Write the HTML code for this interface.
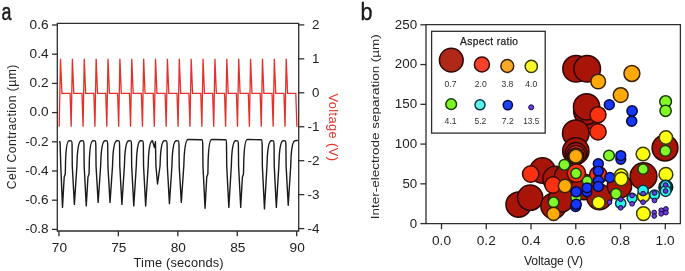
<!DOCTYPE html>
<html><head><meta charset="utf-8"><style>
html,body{margin:0;padding:0;background:#fff;}
svg{display:block;font-family:"Liberation Sans", sans-serif;filter:blur(0.3px);}
</style></head><body>
<svg width="685" height="271" viewBox="0 0 685 271">
<rect width="685" height="271" fill="#fff"/>
<text transform="translate(1.5,19.7) scale(0.77,1)" font-size="23.2" fill="#1a1a1a" stroke="#1a1a1a" stroke-width="0.5">a</text>
<path d="M57.3,23.4 H298.7 V231.0 H57.3 Z" fill="none" stroke="#2e2e2e" stroke-width="1.3"/>
<line x1="52.00" y1="25.00" x2="57.30" y2="25.00" stroke="#2e2e2e" stroke-width="1.3"/>
<text x="48.60" y="28.80" font-size="12.1" text-anchor="end" fill="#222" textLength="19.0" lengthAdjust="spacingAndGlyphs">0.6</text>
<line x1="52.00" y1="54.20" x2="57.30" y2="54.20" stroke="#2e2e2e" stroke-width="1.3"/>
<text x="48.60" y="58.00" font-size="12.1" text-anchor="end" fill="#222" textLength="19.0" lengthAdjust="spacingAndGlyphs">0.4</text>
<line x1="52.00" y1="83.40" x2="57.30" y2="83.40" stroke="#2e2e2e" stroke-width="1.3"/>
<text x="48.60" y="87.20" font-size="12.1" text-anchor="end" fill="#222" textLength="19.0" lengthAdjust="spacingAndGlyphs">0.2</text>
<line x1="52.00" y1="112.60" x2="57.30" y2="112.60" stroke="#2e2e2e" stroke-width="1.3"/>
<text x="48.60" y="116.40" font-size="12.1" text-anchor="end" fill="#222" textLength="19.0" lengthAdjust="spacingAndGlyphs">0.0</text>
<line x1="52.00" y1="141.80" x2="57.30" y2="141.80" stroke="#2e2e2e" stroke-width="1.3"/>
<text x="48.60" y="145.60" font-size="12.1" text-anchor="end" fill="#222" textLength="23.4" lengthAdjust="spacingAndGlyphs">-0.2</text>
<line x1="52.00" y1="171.00" x2="57.30" y2="171.00" stroke="#2e2e2e" stroke-width="1.3"/>
<text x="48.60" y="174.80" font-size="12.1" text-anchor="end" fill="#222" textLength="23.4" lengthAdjust="spacingAndGlyphs">-0.4</text>
<line x1="52.00" y1="200.20" x2="57.30" y2="200.20" stroke="#2e2e2e" stroke-width="1.3"/>
<text x="48.60" y="204.00" font-size="12.1" text-anchor="end" fill="#222" textLength="23.4" lengthAdjust="spacingAndGlyphs">-0.6</text>
<line x1="52.00" y1="229.40" x2="57.30" y2="229.40" stroke="#2e2e2e" stroke-width="1.3"/>
<text x="48.60" y="233.20" font-size="12.1" text-anchor="end" fill="#222" textLength="23.4" lengthAdjust="spacingAndGlyphs">-0.8</text>
<line x1="298.70" y1="24.90" x2="304.30" y2="24.90" stroke="#2e2e2e" stroke-width="1.3"/>
<text x="312.00" y="28.80" font-size="12.1" text-anchor="start" fill="#222" textLength="7.4" lengthAdjust="spacingAndGlyphs">2</text>
<line x1="298.70" y1="58.85" x2="304.30" y2="58.85" stroke="#2e2e2e" stroke-width="1.3"/>
<text x="312.00" y="62.75" font-size="12.1" text-anchor="start" fill="#222" textLength="7.4" lengthAdjust="spacingAndGlyphs">1</text>
<line x1="298.70" y1="92.80" x2="304.30" y2="92.80" stroke="#2e2e2e" stroke-width="1.3"/>
<text x="312.00" y="96.70" font-size="12.1" text-anchor="start" fill="#222" textLength="7.4" lengthAdjust="spacingAndGlyphs">0</text>
<line x1="298.70" y1="126.75" x2="304.30" y2="126.75" stroke="#2e2e2e" stroke-width="1.3"/>
<text x="307.60" y="130.65" font-size="12.1" text-anchor="start" fill="#222" textLength="12.0" lengthAdjust="spacingAndGlyphs">-1</text>
<line x1="298.70" y1="160.70" x2="304.30" y2="160.70" stroke="#2e2e2e" stroke-width="1.3"/>
<text x="307.60" y="164.60" font-size="12.1" text-anchor="start" fill="#222" textLength="12.0" lengthAdjust="spacingAndGlyphs">-2</text>
<line x1="298.70" y1="194.65" x2="304.30" y2="194.65" stroke="#2e2e2e" stroke-width="1.3"/>
<text x="307.60" y="198.55" font-size="12.1" text-anchor="start" fill="#222" textLength="12.0" lengthAdjust="spacingAndGlyphs">-3</text>
<line x1="298.70" y1="228.60" x2="304.30" y2="228.60" stroke="#2e2e2e" stroke-width="1.3"/>
<text x="307.60" y="232.50" font-size="12.1" text-anchor="start" fill="#222" textLength="12.0" lengthAdjust="spacingAndGlyphs">-4</text>
<line x1="58.90" y1="231.00" x2="58.90" y2="236.20" stroke="#2e2e2e" stroke-width="1.3"/>
<text x="59.40" y="251.50" font-size="12.1" text-anchor="middle" fill="#222" textLength="15.2" lengthAdjust="spacingAndGlyphs">70</text>
<line x1="118.35" y1="231.00" x2="118.35" y2="236.20" stroke="#2e2e2e" stroke-width="1.3"/>
<text x="118.85" y="251.50" font-size="12.1" text-anchor="middle" fill="#222" textLength="15.2" lengthAdjust="spacingAndGlyphs">75</text>
<line x1="177.80" y1="231.00" x2="177.80" y2="236.20" stroke="#2e2e2e" stroke-width="1.3"/>
<text x="178.30" y="251.50" font-size="12.1" text-anchor="middle" fill="#222" textLength="15.2" lengthAdjust="spacingAndGlyphs">80</text>
<line x1="237.25" y1="231.00" x2="237.25" y2="236.20" stroke="#2e2e2e" stroke-width="1.3"/>
<text x="237.75" y="251.50" font-size="12.1" text-anchor="middle" fill="#222" textLength="15.2" lengthAdjust="spacingAndGlyphs">85</text>
<line x1="296.70" y1="231.00" x2="296.70" y2="236.20" stroke="#2e2e2e" stroke-width="1.3"/>
<text x="297.20" y="251.50" font-size="12.1" text-anchor="middle" fill="#222" textLength="15.2" lengthAdjust="spacingAndGlyphs">90</text>
<text x="133.60" y="266.60" font-size="12.8" text-anchor="start" fill="#222" textLength="90.0" lengthAdjust="spacing">Time (seconds)</text>
<text transform="translate(16.4,189.2) rotate(-90)" font-size="12.2" fill="#222" textLength="124.6" lengthAdjust="spacing">Cell Contraction (µm)</text>
<text transform="translate(329.2,93.6) rotate(90)" font-size="12.8" fill="#e2352d" textLength="67.4" lengthAdjust="spacing">Voltage (V)</text>
<path d="M59.2,126.75 L60.50,58.85 L61.90,93.30 L70.08,93.30 L71.18,126.75 L72.38,58.85 L73.78,93.30 L81.96,93.30 L83.06,126.75 L84.26,58.85 L85.66,93.30 L93.84,93.30 L94.94,126.75 L96.14,58.85 L97.54,93.30 L105.72,93.30 L106.82,126.75 L108.02,58.85 L109.42,93.30 L117.60,93.30 L118.70,126.75 L119.90,58.85 L121.30,93.30 L129.48,93.30 L130.58,126.75 L131.78,58.85 L133.18,93.30 L141.36,93.30 L142.46,126.75 L143.66,58.85 L145.06,93.30 L153.24,93.30 L154.34,126.75 L155.54,58.85 L156.94,93.30 L165.12,93.30 L166.22,126.75 L167.42,58.85 L168.82,93.30 L177.00,93.30 L178.10,126.75 L179.30,58.85 L180.70,93.30 L188.88,93.30 L189.98,126.75 L191.18,58.85 L192.58,93.30 L200.76,93.30 L201.86,126.75 L203.06,58.85 L204.46,93.30 L212.64,93.30 L213.74,126.75 L214.94,58.85 L216.34,93.30 L224.52,93.30 L225.62,126.75 L226.82,58.85 L228.22,93.30 L236.40,93.30 L237.50,126.75 L238.70,58.85 L240.10,93.30 L248.28,93.30 L249.38,126.75 L250.58,58.85 L251.98,93.30 L260.16,93.30 L261.26,126.75 L262.46,58.85 L263.86,93.30 L272.04,93.30 L273.14,126.75 L274.34,58.85 L275.74,93.30 L283.92,93.30 L285.02,126.75 L286.22,58.85 L287.62,93.30 L295.80,93.30 L296.90,126.75" fill="none" stroke="#e5302a" stroke-width="1.3" stroke-linejoin="miter"/>
<path d="M59.6,141.00 L60.1,143 L60.8,166 L62.50,207.40 L64.20,177 L65.30,174 L65.60,160 C66.10,146 67.10,140.70 69.30,140.70 L71.28,140.90 Q71.98,141.00 72.08,145 L72.28,166 L74.38,204.40 L76.88,166 L77.28,156 C77.98,146 78.98,140.70 81.18,140.70 L83.16,140.90 Q83.86,141.00 83.96,145 L84.16,166 L86.26,205.90 L87.96,177 L89.06,174 L89.36,160 C89.86,146 90.86,140.70 93.06,140.70 L95.04,140.90 Q95.74,141.00 95.84,145 L96.04,166 L98.14,202.40 L100.64,166 L101.04,156 C101.74,146 102.74,140.70 104.94,140.70 L106.92,140.90 Q107.62,141.00 107.72,145 L107.92,166 L110.02,202.40 L112.52,166 L112.92,156 C113.62,146 114.62,140.70 116.82,140.70 L118.80,140.90 Q119.50,141.00 119.60,145 L119.80,166 L121.90,204.40 L124.40,166 L124.80,156 C125.50,146 126.50,140.70 128.70,140.70 L130.68,140.90 Q131.38,141.00 131.48,145 L131.68,166 L133.78,205.90 L136.28,166 L136.68,156 C137.38,146 138.38,140.70 140.58,140.70 L142.56,140.90 Q143.26,141.00 143.36,145 L143.56,166 L145.66,206.00 L148.16,166 L148.56,156 C149.26,146 150.26,140.70 152.46,140.70 L154.46,147.6 L155.46,141.70 L155.94,166 L157.54,184.00 L160.04,166 L160.44,156 C161.14,146 162.14,140.70 164.34,140.70 L166.32,140.90 Q167.02,141.00 167.12,145 L167.32,166 L169.42,203.60 L171.92,166 L172.32,156 C173.02,146 174.02,140.70 176.22,140.70 L178.20,140.90 Q178.90,141.00 179.00,145 L179.20,166 L181.30,202.40 L183.80,166 L184.20,156 C184.90,146 185.90,139.50 188.10,139.50 L201.96,139.70 Q202.66,139.80 202.76,145 L202.96,166 L205.06,208.30 L206.76,177 L207.86,174 L208.16,160 C208.66,146 209.66,139.50 211.86,139.50 L225.72,139.70 Q226.42,139.80 226.52,145 L226.72,166 L228.82,207.40 L231.32,166 L231.72,156 C232.42,146 233.42,140.70 235.62,140.70 L237.60,140.90 Q238.30,141.00 238.40,145 L238.60,166 L240.70,207.40 L242.40,177 L243.50,174 L243.80,160 C244.30,146 245.30,139.50 247.50,139.50 L261.36,139.70 Q262.06,139.80 262.16,145 L262.36,166 L264.46,208.90 L266.96,166 L267.36,156 C268.06,146 269.06,140.70 271.26,140.70 L273.24,140.90 Q273.94,141.00 274.04,145 L274.24,166 L276.34,207.40 L278.84,166 L279.24,156 C279.94,146 280.94,140.70 283.14,140.70 L285.12,140.90 Q285.82,141.00 285.92,145 L286.12,166 L288.22,205.30 L290.72,166 L291.12,156 C291.82,146 292.82,140.70 295.02,140.70 L298.0,140.40" fill="none" stroke="#1a1a1a" stroke-width="1.4" stroke-linejoin="round"/>
<text transform="translate(360.6,19.6) scale(0.88,1)" font-size="24.5" fill="#1a1a1a" stroke="#1a1a1a" stroke-width="0.4">b</text>
<path d="M426.0,24.7 H680.4 V223.6 H426.0 Z" fill="none" stroke="#2e2e2e" stroke-width="1.3"/>
<line x1="420.40" y1="223.60" x2="426.00" y2="223.60" stroke="#2e2e2e" stroke-width="1.3"/>
<text x="417.20" y="227.50" font-size="12.1" text-anchor="end" fill="#222" textLength="7.4" lengthAdjust="spacingAndGlyphs">0</text>
<line x1="420.40" y1="183.84" x2="426.00" y2="183.84" stroke="#2e2e2e" stroke-width="1.3"/>
<text x="417.20" y="187.74" font-size="12.1" text-anchor="end" fill="#222" textLength="14.8" lengthAdjust="spacingAndGlyphs">50</text>
<line x1="420.40" y1="144.08" x2="426.00" y2="144.08" stroke="#2e2e2e" stroke-width="1.3"/>
<text x="417.20" y="147.98" font-size="12.1" text-anchor="end" fill="#222" textLength="22.4" lengthAdjust="spacingAndGlyphs">100</text>
<line x1="420.40" y1="104.32" x2="426.00" y2="104.32" stroke="#2e2e2e" stroke-width="1.3"/>
<text x="417.20" y="108.22" font-size="12.1" text-anchor="end" fill="#222" textLength="22.4" lengthAdjust="spacingAndGlyphs">150</text>
<line x1="420.40" y1="64.56" x2="426.00" y2="64.56" stroke="#2e2e2e" stroke-width="1.3"/>
<text x="417.20" y="68.46" font-size="12.1" text-anchor="end" fill="#222" textLength="22.4" lengthAdjust="spacingAndGlyphs">200</text>
<line x1="420.40" y1="24.80" x2="426.00" y2="24.80" stroke="#2e2e2e" stroke-width="1.3"/>
<text x="417.20" y="28.70" font-size="12.1" text-anchor="end" fill="#222" textLength="22.4" lengthAdjust="spacingAndGlyphs">250</text>
<line x1="441.50" y1="223.60" x2="441.50" y2="229.20" stroke="#2e2e2e" stroke-width="1.3"/>
<text x="441.50" y="244.80" font-size="12.1" text-anchor="middle" fill="#222" textLength="19.0" lengthAdjust="spacingAndGlyphs">0.0</text>
<line x1="486.26" y1="223.60" x2="486.26" y2="229.20" stroke="#2e2e2e" stroke-width="1.3"/>
<text x="486.26" y="244.80" font-size="12.1" text-anchor="middle" fill="#222" textLength="19.0" lengthAdjust="spacingAndGlyphs">0.2</text>
<line x1="531.02" y1="223.60" x2="531.02" y2="229.20" stroke="#2e2e2e" stroke-width="1.3"/>
<text x="531.02" y="244.80" font-size="12.1" text-anchor="middle" fill="#222" textLength="19.0" lengthAdjust="spacingAndGlyphs">0.4</text>
<line x1="575.78" y1="223.60" x2="575.78" y2="229.20" stroke="#2e2e2e" stroke-width="1.3"/>
<text x="575.78" y="244.80" font-size="12.1" text-anchor="middle" fill="#222" textLength="19.0" lengthAdjust="spacingAndGlyphs">0.6</text>
<line x1="620.54" y1="223.60" x2="620.54" y2="229.20" stroke="#2e2e2e" stroke-width="1.3"/>
<text x="620.54" y="244.80" font-size="12.1" text-anchor="middle" fill="#222" textLength="19.0" lengthAdjust="spacingAndGlyphs">0.8</text>
<line x1="665.30" y1="223.60" x2="665.30" y2="229.20" stroke="#2e2e2e" stroke-width="1.3"/>
<text x="665.10" y="244.80" font-size="12.1" text-anchor="middle" fill="#222" textLength="19.0" lengthAdjust="spacingAndGlyphs">1.0</text>
<text x="524.00" y="264.60" font-size="12.2" text-anchor="start" fill="#222" textLength="59.0" lengthAdjust="spacing">Voltage (V)</text>
<text transform="translate(379.0,219.2) rotate(-90)" font-size="11.7" fill="#222" textLength="185.0" lengthAdjust="spacingAndGlyphs">Inter-electrode separation (µm)</text>
<rect x="431.6" y="31.3" width="113.6" height="101.8" fill="#fff" stroke="#2e2e2e" stroke-width="1.3"/>
<text x="460.00" y="45.00" font-size="10.2" text-anchor="start" fill="#222" textLength="58.0" lengthAdjust="spacing" stroke="#222" stroke-width="0.25">Aspect ratio</text>
<circle cx="451.30" cy="60.20" r="11.85" fill="#b02818" stroke="#2a0805" stroke-width="1.5"/>
<circle cx="481.90" cy="64.50" r="7.55" fill="#f4422c" stroke="#3a0a05" stroke-width="1.5"/>
<circle cx="507.30" cy="66.00" r="6.45" fill="#faa82a" stroke="#3a2205" stroke-width="1.5"/>
<circle cx="531.30" cy="66.40" r="6.10" fill="#f8f828" stroke="#3a3a05" stroke-width="1.5"/>
<circle cx="451.20" cy="104.20" r="5.35" fill="#7cf820" stroke="#1a3a05" stroke-width="1.5"/>
<circle cx="480.00" cy="104.80" r="5.05" fill="#5cf4f0" stroke="#0a3a40" stroke-width="1.5"/>
<circle cx="507.80" cy="105.10" r="4.65" fill="#1c44f4" stroke="#0a0a40" stroke-width="1.5"/>
<circle cx="531.20" cy="107.30" r="2.50" fill="#6a3ce0" stroke="#1a0a40" stroke-width="1.0"/>
<text x="450.60" y="87.00" font-size="8.6" text-anchor="middle" fill="#333" textLength="12.0" lengthAdjust="spacingAndGlyphs">0.7</text>
<text x="480.70" y="87.00" font-size="8.6" text-anchor="middle" fill="#333" textLength="12.0" lengthAdjust="spacingAndGlyphs">2.0</text>
<text x="507.40" y="87.00" font-size="8.6" text-anchor="middle" fill="#333" textLength="12.0" lengthAdjust="spacingAndGlyphs">3.8</text>
<text x="531.20" y="87.00" font-size="8.6" text-anchor="middle" fill="#333" textLength="12.0" lengthAdjust="spacingAndGlyphs">4.0</text>
<text x="450.60" y="124.00" font-size="8.6" text-anchor="middle" fill="#333" textLength="12.0" lengthAdjust="spacingAndGlyphs">4.1</text>
<text x="480.40" y="124.00" font-size="8.6" text-anchor="middle" fill="#333" textLength="12.0" lengthAdjust="spacingAndGlyphs">5.2</text>
<text x="507.70" y="124.00" font-size="8.6" text-anchor="middle" fill="#333" textLength="12.0" lengthAdjust="spacingAndGlyphs">7.2</text>
<text x="531.30" y="124.00" font-size="8.6" text-anchor="middle" fill="#333" textLength="16.0" lengthAdjust="spacingAndGlyphs">13.5</text>
<circle cx="576.10" cy="68.80" r="13.30" fill="#a81508" stroke="#2a0805" stroke-width="1.5"/>
<circle cx="587.20" cy="68.80" r="13.30" fill="#a81508" stroke="#2a0805" stroke-width="1.5"/>
<circle cx="598.20" cy="81.50" r="7.30" fill="#ffaa08" stroke="#3a2205" stroke-width="1.5"/>
<circle cx="631.90" cy="73.50" r="7.95" fill="#ffaa08" stroke="#3a2205" stroke-width="1.5"/>
<circle cx="620.70" cy="95.10" r="7.40" fill="#ffaa08" stroke="#3a2205" stroke-width="1.5"/>
<circle cx="588.50" cy="115.50" r="13.15" fill="#a81508" stroke="#2a0805" stroke-width="1.5"/>
<circle cx="586.80" cy="111.30" r="13.15" fill="#a81508" stroke="#2a0805" stroke-width="1.5"/>
<circle cx="586.60" cy="106.80" r="13.15" fill="#a81508" stroke="#2a0805" stroke-width="1.5"/>
<circle cx="598.00" cy="131.80" r="8.15" fill="#fa3212" stroke="#3a0a05" stroke-width="1.5"/>
<circle cx="598.00" cy="114.80" r="8.00" fill="#fa3212" stroke="#3a0a05" stroke-width="1.5"/>
<circle cx="609.30" cy="104.80" r="4.95" fill="#1636f8" stroke="#0a0a40" stroke-width="1.5"/>
<circle cx="575.80" cy="133.20" r="13.30" fill="#a81508" stroke="#2a0805" stroke-width="1.5"/>
<circle cx="575.80" cy="151.00" r="13.15" fill="#a81508" stroke="#2a0805" stroke-width="1.5"/>
<circle cx="576.00" cy="153.50" r="10.90" fill="#a81508" stroke="#2a0805" stroke-width="1.5"/>
<circle cx="576.00" cy="155.00" r="9.40" fill="#fa3212" stroke="#3a0a05" stroke-width="1.5"/>
<circle cx="575.80" cy="156.00" r="7.95" fill="#a81508" stroke="#2a0805" stroke-width="1.5"/>
<circle cx="575.80" cy="156.20" r="6.85" fill="#ffaa08" stroke="#3a2205" stroke-width="1.5"/>
<circle cx="518.60" cy="204.60" r="12.65" fill="#a81508" stroke="#2a0805" stroke-width="1.5"/>
<circle cx="530.20" cy="197.70" r="12.65" fill="#a81508" stroke="#2a0805" stroke-width="1.5"/>
<circle cx="542.50" cy="170.50" r="12.65" fill="#a81508" stroke="#2a0805" stroke-width="1.5"/>
<circle cx="530.70" cy="174.00" r="8.15" fill="#fa3212" stroke="#3a0a05" stroke-width="1.5"/>
<circle cx="555.50" cy="179.00" r="12.65" fill="#a81508" stroke="#2a0805" stroke-width="1.5"/>
<circle cx="567.00" cy="177.00" r="12.65" fill="#a81508" stroke="#2a0805" stroke-width="1.5"/>
<circle cx="584.00" cy="187.00" r="12.65" fill="#a81508" stroke="#2a0805" stroke-width="1.5"/>
<circle cx="553.50" cy="206.00" r="12.65" fill="#a81508" stroke="#2a0805" stroke-width="1.5"/>
<circle cx="561.00" cy="199.50" r="12.65" fill="#a81508" stroke="#2a0805" stroke-width="1.5"/>
<circle cx="553.00" cy="185.00" r="8.15" fill="#fa3212" stroke="#3a0a05" stroke-width="1.5"/>
<circle cx="565.00" cy="186.00" r="6.65" fill="#ffaa08" stroke="#3a2205" stroke-width="1.5"/>
<circle cx="576.40" cy="173.20" r="9.15" fill="#fa3212" stroke="#3a0a05" stroke-width="1.5"/>
<circle cx="564.40" cy="164.80" r="5.40" fill="#82fa28" stroke="#1a3a05" stroke-width="1.5"/>
<circle cx="576.00" cy="173.30" r="5.15" fill="#82fa28" stroke="#1a3a05" stroke-width="1.5"/>
<circle cx="553.60" cy="202.40" r="5.30" fill="#82fa28" stroke="#1a3a05" stroke-width="1.5"/>
<circle cx="553.50" cy="213.80" r="6.65" fill="#ffaa08" stroke="#3a2205" stroke-width="1.5"/>
<circle cx="599.40" cy="197.00" r="12.65" fill="#a81508" stroke="#2a0805" stroke-width="1.5"/>
<circle cx="619.50" cy="186.00" r="12.15" fill="#a81508" stroke="#2a0805" stroke-width="1.5"/>
<circle cx="598.20" cy="175.00" r="8.65" fill="#fa3212" stroke="#3a0a05" stroke-width="1.5"/>
<circle cx="587.20" cy="181.00" r="4.90" fill="#82fa28" stroke="#1a3a05" stroke-width="1.5"/>
<circle cx="587.00" cy="191.80" r="4.85" fill="#1636f8" stroke="#0a0a40" stroke-width="1.5"/>
<circle cx="587.00" cy="187.80" r="4.85" fill="#1636f8" stroke="#0a0a40" stroke-width="1.5"/>
<circle cx="576.00" cy="197.50" r="5.15" fill="#82fa28" stroke="#1a3a05" stroke-width="1.5"/>
<circle cx="575.60" cy="206.50" r="5.05" fill="#1636f8" stroke="#0a0a40" stroke-width="1.5"/>
<circle cx="576.20" cy="191.80" r="5.05" fill="#1636f8" stroke="#0a0a40" stroke-width="1.5"/>
<circle cx="576.20" cy="204.30" r="5.05" fill="#1636f8" stroke="#0a0a40" stroke-width="1.5"/>
<circle cx="598.30" cy="163.70" r="4.95" fill="#1636f8" stroke="#0a0a40" stroke-width="1.5"/>
<circle cx="598.30" cy="171.10" r="4.95" fill="#1636f8" stroke="#0a0a40" stroke-width="1.5"/>
<circle cx="598.30" cy="180.70" r="4.95" fill="#1636f8" stroke="#0a0a40" stroke-width="1.5"/>
<circle cx="598.30" cy="186.50" r="4.95" fill="#1636f8" stroke="#0a0a40" stroke-width="1.5"/>
<circle cx="598.60" cy="202.50" r="6.35" fill="#ffff10" stroke="#3a3a05" stroke-width="1.5"/>
<circle cx="609.00" cy="155.50" r="5.35" fill="#82fa28" stroke="#1a3a05" stroke-width="1.5"/>
<circle cx="620.80" cy="159.30" r="4.90" fill="#1636f8" stroke="#0a0a40" stroke-width="1.5"/>
<circle cx="620.80" cy="155.60" r="4.90" fill="#1636f8" stroke="#0a0a40" stroke-width="1.5"/>
<circle cx="609.80" cy="177.50" r="4.95" fill="#1636f8" stroke="#0a0a40" stroke-width="1.5"/>
<circle cx="621.20" cy="175.50" r="6.65" fill="#ffff10" stroke="#3a3a05" stroke-width="1.5"/>
<circle cx="621.20" cy="179.00" r="6.65" fill="#ffff10" stroke="#3a3a05" stroke-width="1.5"/>
<circle cx="616.00" cy="193.70" r="5.25" fill="#82fa28" stroke="#1a3a05" stroke-width="1.5"/>
<circle cx="609.50" cy="202.30" r="2.35" fill="#6a3ce0" stroke="#1a0a40" stroke-width="1.0"/>
<circle cx="620.70" cy="203.30" r="5.15" fill="#28f6ee" stroke="#0a3a40" stroke-width="1.5"/>
<circle cx="620.70" cy="199.30" r="2.35" fill="#6a3ce0" stroke="#1a0a40" stroke-width="1.0"/>
<circle cx="620.70" cy="207.80" r="2.35" fill="#6a3ce0" stroke="#1a0a40" stroke-width="1.0"/>
<circle cx="632.10" cy="198.20" r="4.90" fill="#28f6ee" stroke="#0a3a40" stroke-width="1.5"/>
<circle cx="632.10" cy="195.50" r="2.35" fill="#6a3ce0" stroke="#1a0a40" stroke-width="1.0"/>
<circle cx="632.10" cy="203.80" r="2.35" fill="#6a3ce0" stroke="#1a0a40" stroke-width="1.0"/>
<circle cx="632.10" cy="111.00" r="5.15" fill="#1636f8" stroke="#0a0a40" stroke-width="1.5"/>
<circle cx="631.70" cy="121.20" r="5.05" fill="#1636f8" stroke="#0a0a40" stroke-width="1.5"/>
<circle cx="665.60" cy="101.50" r="5.85" fill="#82fa28" stroke="#1a3a05" stroke-width="1.5"/>
<circle cx="665.60" cy="110.80" r="5.65" fill="#82fa28" stroke="#1a3a05" stroke-width="1.5"/>
<circle cx="665.00" cy="148.00" r="12.90" fill="#a81508" stroke="#2a0805" stroke-width="1.5"/>
<circle cx="665.90" cy="137.50" r="6.65" fill="#ffff10" stroke="#3a3a05" stroke-width="1.5"/>
<circle cx="665.40" cy="150.90" r="5.40" fill="#82fa28" stroke="#1a3a05" stroke-width="1.5"/>
<circle cx="643.00" cy="154.00" r="6.85" fill="#ffff10" stroke="#3a3a05" stroke-width="1.5"/>
<circle cx="643.50" cy="176.20" r="13.40" fill="#a81508" stroke="#2a0805" stroke-width="1.5"/>
<circle cx="643.10" cy="169.20" r="5.15" fill="#82fa28" stroke="#1a3a05" stroke-width="1.5"/>
<circle cx="643.50" cy="196.00" r="6.15" fill="#ffff10" stroke="#3a3a05" stroke-width="1.5"/>
<circle cx="643.10" cy="190.30" r="5.15" fill="#28f6ee" stroke="#0a3a40" stroke-width="1.5"/>
<circle cx="643.10" cy="193.60" r="2.35" fill="#6a3ce0" stroke="#1a0a40" stroke-width="1.0"/>
<circle cx="643.10" cy="202.20" r="2.35" fill="#6a3ce0" stroke="#1a0a40" stroke-width="1.0"/>
<circle cx="665.90" cy="174.40" r="6.90" fill="#ffff10" stroke="#3a3a05" stroke-width="1.5"/>
<circle cx="665.80" cy="187.20" r="6.90" fill="#10302a" stroke="#0a1a14" stroke-width="1.5"/>
<circle cx="665.60" cy="186.00" r="5.40" fill="#28f6ee" stroke="#0a3a40" stroke-width="1.5"/>
<circle cx="665.60" cy="191.00" r="5.40" fill="#28f6ee" stroke="#0a3a40" stroke-width="1.5"/>
<circle cx="665.60" cy="185.00" r="2.35" fill="#6a3ce0" stroke="#1a0a40" stroke-width="1.0"/>
<circle cx="665.60" cy="191.00" r="2.35" fill="#6a3ce0" stroke="#1a0a40" stroke-width="1.0"/>
<circle cx="654.60" cy="194.80" r="4.90" fill="#28f6ee" stroke="#0a3a40" stroke-width="1.5"/>
<circle cx="654.50" cy="193.00" r="2.35" fill="#6a3ce0" stroke="#1a0a40" stroke-width="1.0"/>
<circle cx="654.50" cy="200.50" r="2.35" fill="#6a3ce0" stroke="#1a0a40" stroke-width="1.0"/>
<circle cx="643.40" cy="213.60" r="6.85" fill="#ffff10" stroke="#3a3a05" stroke-width="1.5"/>
<circle cx="654.20" cy="212.50" r="2.35" fill="#6a3ce0" stroke="#1a0a40" stroke-width="1.0"/>
<circle cx="654.20" cy="216.00" r="2.35" fill="#6a3ce0" stroke="#1a0a40" stroke-width="1.0"/>
<circle cx="661.20" cy="210.30" r="2.40" fill="#6a3ce0" stroke="#1a0a40" stroke-width="1.0"/>
<circle cx="661.20" cy="213.80" r="2.40" fill="#6a3ce0" stroke="#1a0a40" stroke-width="1.0"/>
<circle cx="665.90" cy="209.00" r="2.40" fill="#6a3ce0" stroke="#1a0a40" stroke-width="1.0"/>
<circle cx="665.90" cy="212.60" r="2.40" fill="#6a3ce0" stroke="#1a0a40" stroke-width="1.0"/>
</svg>
</body></html>
